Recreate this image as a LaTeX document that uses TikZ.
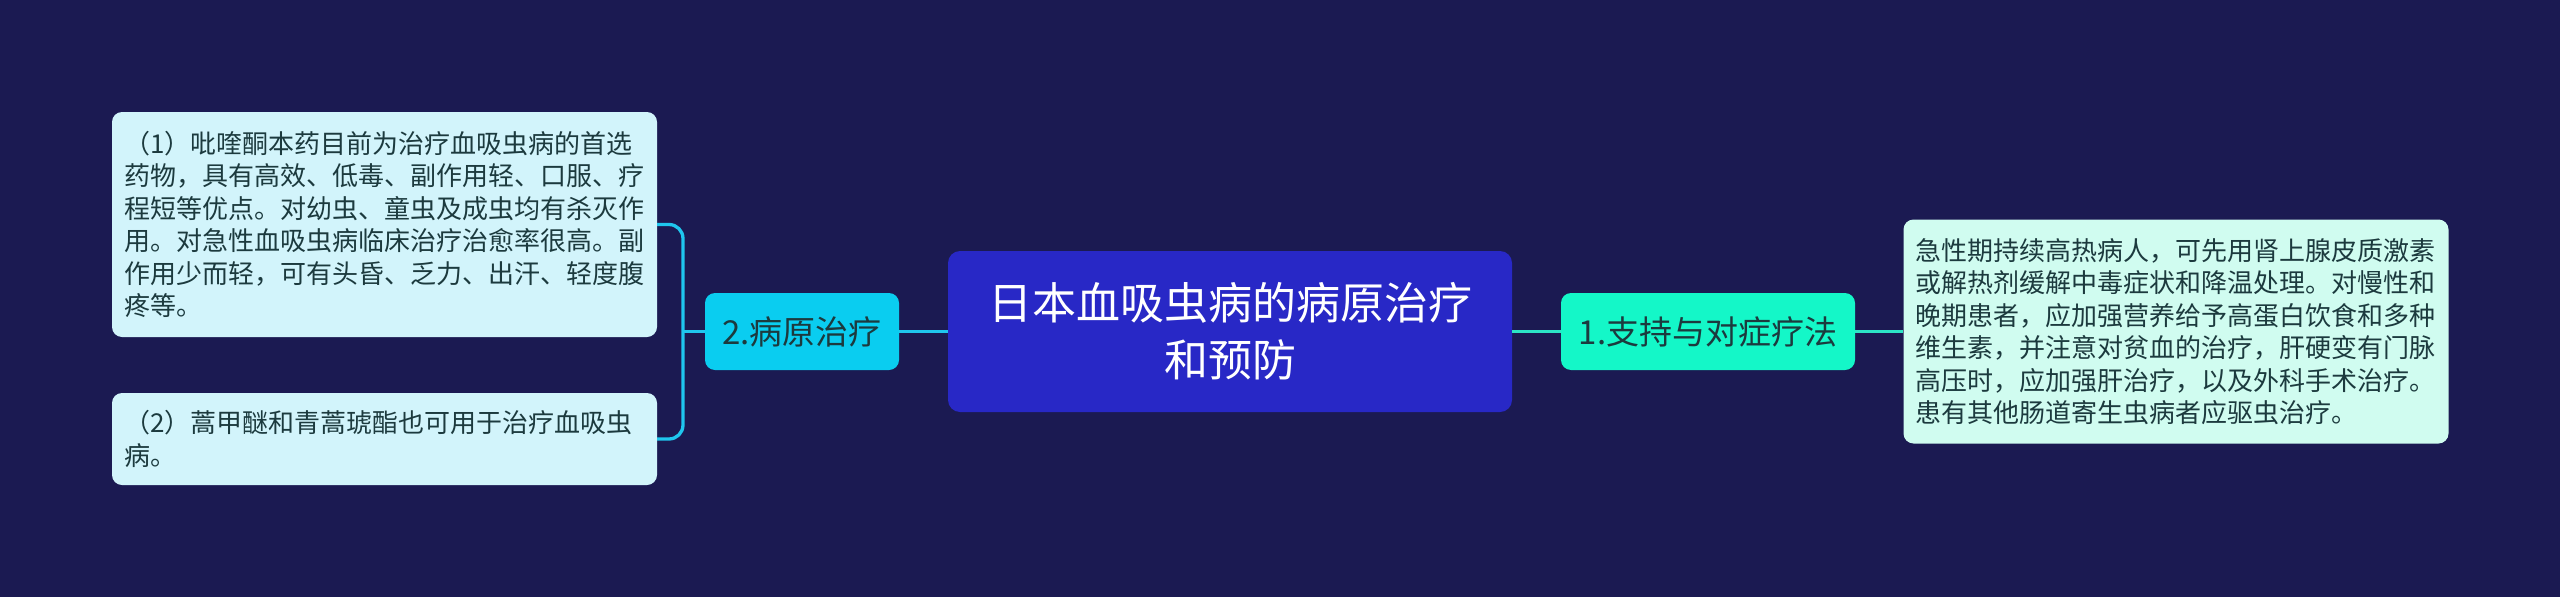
\documentclass[tikz,border=0pt]{standalone}
\usepackage{fontspec}
\setmainfont{Noto Sans CJK SC}
\definecolor{bgnavy}{HTML}{1B1A52}
\definecolor{rootblue}{HTML}{2828C6}
\definecolor{leftcyan}{HTML}{0ACDF0}
\definecolor{rightmint}{HTML}{14F7C8}
\definecolor{leftleaf}{HTML}{D2F4FB}
\definecolor{rightleaf}{HTML}{D0FCF0}
\definecolor{leftline}{HTML}{1FC6EE}
\definecolor{rightline}{HTML}{2CE4C6}
\definecolor{inkdark}{HTML}{1C3A3E}
\tikzset{
  rootbox/.style={fill=rootblue, rounded corners=12pt, text=white, align=center,
    font=\fontsize{44}{57}\selectfont, minimum width=564pt, minimum height=161pt, inner sep=0pt},
  branchbox/.style={rounded corners=10pt, text=inkdark, font=\fontsize{33}{40}\selectfont,
    minimum height=77pt, inner sep=0pt},
  leafbox/.style={rounded corners=10pt, text=inkdark, align=left, text width=521pt,
    font=\fontsize{26}{32.5}\selectfont, inner xsep=12pt, inner ysep=0pt},
  leftlink/.style={draw=leftline, line width=3.3pt},
  rightlink/.style={draw=rightline, line width=3.3pt}
}
\begin{document}
\begin{tikzpicture}[x=1pt,y=-1pt]

	\fill [bgnavy] (0,0) rectangle (2560,597);
	\useasboundingbox (0,0) rectangle (2560,597);

	\node [rootbox] (root) at (1230,331.5) {日本血吸虫病的病原治疗\\和预防};

	% left side
	\node [branchbox, fill=leftcyan, minimum width=194pt] (cure) at (802,331.5) {2.病原治疗};
	\node [leafbox, fill=leftleaf, minimum height=225pt] (drugA) at (384.5,224.5) {%
		（1）吡喹酮本药目前为治疗血吸虫病的首选\\
		药物，具有高效、低毒、副作用轻、口服、疗\\
		程短等优点。对幼虫、童虫及成虫均有杀灭作\\
		用。对急性血吸虫病临床治疗治愈率很高。副\\
		作用少而轻，可有头昏、乏力、出汗、轻度腹\\
		疼等。};
	\node [leafbox, fill=leftleaf, minimum height=92pt] (drugB) at (384.5,439) {%
		（2）蒿甲醚和青蒿琥酯也可用于治疗血吸虫\\
		病。};
	\coordinate (fork) at (683,331.5);

	% right side
	\node [branchbox, fill=rightmint, minimum width=294pt] (support) at (1708,331.5) {1.支持与对症疗法};
	\node [leafbox, fill=rightleaf, minimum height=224pt] (relief) at (2176,331.5) {%
		急性期持续高热病人，可先用肾上腺皮质激素\\
		或解热剂缓解中毒症状和降温处理。对慢性和\\
		晚期患者，应加强营养给予高蛋白饮食和多种\\
		维生素，并注意对贫血的治疗，肝硬变有门脉\\
		高压时，应加强肝治疗，以及外科手术治疗。\\
		患有其他肠道寄生虫病者应驱虫治疗。};

	\draw [leftlink] (root.west) -- (cure.east);
	\draw [leftlink] (cure.west) -- (fork);
	\draw [leftlink, rounded corners=14pt] (drugA.east) -| (fork) |- (drugB.east);
	\draw [rightlink] (root.east) -- (support.west);
	\draw [rightlink] (support.east) -- (relief.west);

\end{tikzpicture}
\end{document}
